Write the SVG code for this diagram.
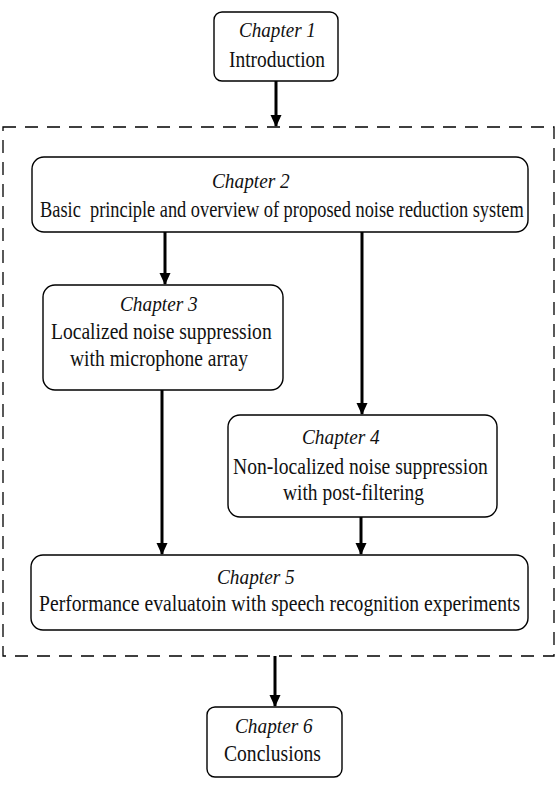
<svg xmlns="http://www.w3.org/2000/svg" width="558" height="791" viewBox="0 0 558 791">
<style>
.box{fill:#fff;stroke:#000;stroke-width:1.4}
.t{font-family:"Liberation Serif","Times New Roman",serif;font-size:24px;fill:#111}
.c{font-family:"Liberation Serif","Times New Roman",serif;font-size:21px;font-style:italic;fill:#111}
.edge{stroke:#000;stroke-width:3;fill:none;marker-end:url(#ah)}
.dash{fill:none;stroke:#000;stroke-width:1.3;stroke-dasharray:13 9}
</style>
<defs>
<marker id="ah" markerUnits="userSpaceOnUse" markerWidth="12" markerHeight="14" refX="11" refY="5.5" orient="auto">
<path d="M0,0 L12,5.5 L0,11 Z" fill="#000"/>
</marker>
</defs>
<rect id="group" class="dash" x="3" y="127" width="551" height="529"/>
<g id="connectors">
<line class="edge" x1="276" y1="81" x2="276" y2="126"/>
<line class="edge" x1="165" y1="232" x2="165" y2="284"/>
<line class="edge" x1="362" y1="232" x2="362" y2="414"/>
<line class="edge" x1="162" y1="390" x2="162" y2="554"/>
<line class="edge" x1="361" y1="517" x2="361" y2="554"/>
<line class="edge" x1="275" y1="656" x2="275" y2="706"/>
</g>
<g id="ch1">
<rect class="box" x="214" y="12" width="124" height="69" rx="8"/>
<text class="c" transform="translate(239,37) scale(0.91,1)">Chapter 1</text>
<text class="t" transform="translate(229,67) scale(0.81,1)">Introduction</text>
</g>
<g id="ch2">
<rect class="box" x="32" y="157" width="496" height="75" rx="12"/>
<text class="c" transform="translate(212,188) scale(0.92,1)">Chapter 2</text>
<text class="t" xml:space="preserve" style="white-space:pre" transform="translate(40,217) scale(0.765,1)">Basic  principle and overview of proposed noise reduction system</text>
</g>
<g id="ch3">
<rect class="box" x="43" y="285" width="240" height="105" rx="12"/>
<text class="c" transform="translate(120,311) scale(0.92,1)">Chapter 3</text>
<text class="t" transform="translate(51,339) scale(0.816,1)">Localized noise suppression</text>
<text class="t" transform="translate(70,366) scale(0.815,1)">with microphone array</text>
</g>
<g id="ch4">
<rect class="box" x="228" y="415" width="269" height="102" rx="12"/>
<text class="c" transform="translate(302,444) scale(0.92,1)">Chapter 4</text>
<text class="t" transform="translate(233,474) scale(0.817,1)">Non-localized noise suppression</text>
<text class="t" transform="translate(283,500) scale(0.811,1)">with post-filtering</text>
</g>
<g id="ch5">
<rect class="box" x="31" y="555" width="497" height="75" rx="12"/>
<text class="c" transform="translate(217,584) scale(0.92,1)">Chapter 5</text>
<text class="t" transform="translate(39,611) scale(0.82,1)">Performance evaluatoin with speech recognition experiments</text>
</g>
<g id="ch6">
<rect class="box" x="207" y="707" width="135" height="70" rx="8"/>
<text class="c" transform="translate(235,733) scale(0.92,1)">Chapter 6</text>
<text class="t" transform="translate(224,761) scale(0.817,1)">Conclusions</text>
</g>
</svg>
